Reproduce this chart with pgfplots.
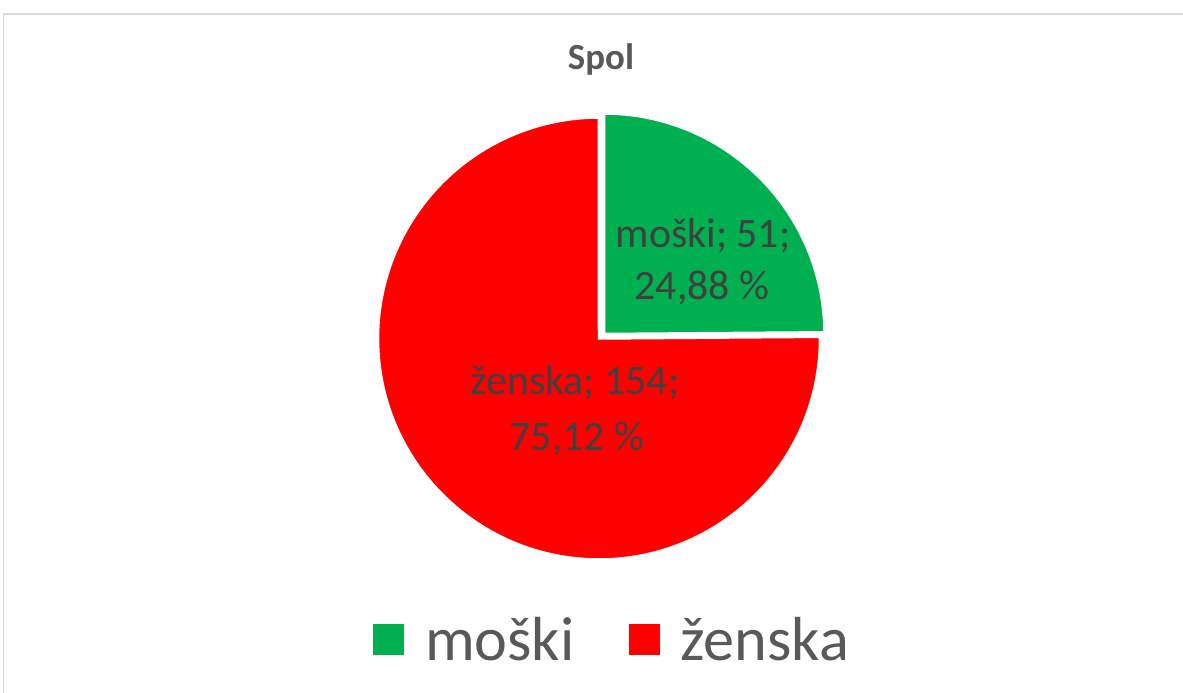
\documentclass[border=0pt]{standalone}
\usepackage{fontspec}
\setmainfont{Carlito}
\usepackage{pgfplots}
\usepackage{pgfplotstable}
\pgfplotsset{compat=1.18}
\definecolor{mygreen}{HTML}{00B050}
\definecolor{myred}{HTML}{FF0000}
\definecolor{titlegray}{HTML}{595959}
\definecolor{labelgray}{HTML}{404040}
\definecolor{bordergray}{HTML}{D9D9D9}

\pgfplotstableread{
label value
moski 51
zenska 154
}\piedata

\pgfplotstablegetelem{0}{value}\of\piedata \let\va\pgfplotsretval
\pgfplotstablegetelem{1}{value}\of\piedata \let\vb\pgfplotsretval
\pgfmathsetmacro\total{\va+\vb}
\pgfmathsetmacro\angA{90-\va/\total*360}
\pgfmathsetmacro\angB{\angA-\vb/\total*360}

\begin{document}
\begin{tikzpicture}
\begin{axis}[
  scale only axis,
  width=1183bp, height=693bp,
  xmin=0, xmax=1183, ymin=0, ymax=693,
  enlargelimits=false,
  hide axis,
  clip=false,
  legend columns=2,
  legend style={
    at={(axis cs:611,53)}, anchor=center,
    draw=none, fill=none, inner sep=0pt,
    font=\fontsize{62.5}{72}\selectfont,
    text=titlegray,
    nodes={inner sep=0pt},
    /tikz/column sep=21bp,
    /tikz/every even column/.append style={column sep=54bp},
  },
  legend image code/.code={\fill[#1] (0bp,-15.5bp) rectangle (31bp,15.5bp);},
]
\addlegendimage{fill=mygreen, draw=none}
\addlegendentry{moški}
\addlegendimage{fill=myred, draw=none}
\addlegendentry{ženska}

% chart border
\draw[bordergray, line width=1.2bp] (axis cs:3.5,-10) -- (axis cs:3.5,679) -- (axis cs:1195,679);

% slices
\filldraw[fill=myred, draw=white, line width=2.5bp]
  (axis cs:599,354.5) -- ++(\angA:221bp) arc[start angle=\angA, end angle=\angB, radius=221bp] -- cycle;
\filldraw[fill=mygreen, draw=white, line width=2.5bp]
  (axis cs:604,359) -- ++(90:220.5bp) arc[start angle=90, end angle=\angA, radius=220.5bp] -- cycle;

% title
\node[anchor=base, text=titlegray, font=\fontsize{37}{44}\selectfont\bfseries] at (axis cs:601,623) {Spol};

% data labels
\node[anchor=base, text=labelgray, font=\fontsize{42}{50}\selectfont] at (axis cs:703,445) {moški; 51;};
\node[anchor=base, text=labelgray, font=\fontsize{42}{50}\selectfont] at (axis cs:702,393) {24,88 \%};
\node[anchor=base, text=labelgray, font=\fontsize{42}{50}\selectfont] at (axis cs:575,298) {ženska; 154;};
\node[anchor=base, text=labelgray, font=\fontsize{42}{50}\selectfont] at (axis cs:577,242) {75,12 \%};
\end{axis}
\pgfresetboundingbox
\path (0,0) rectangle (1183bp,693bp);
\end{tikzpicture}
\end{document}
